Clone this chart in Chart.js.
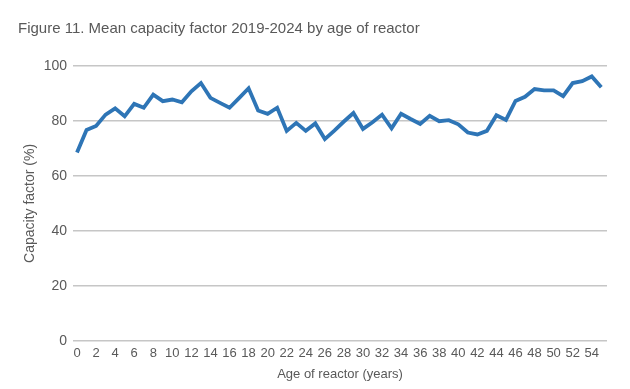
<!DOCTYPE html>
<html>
<head>
<meta charset="utf-8">
<script src="https://cdn.jsdelivr.net/npm/chart.js@4"></script>
<style>
html,body{margin:0;padding:0;background:#fff;}
#wrap{width:630px;height:389px;position:relative;}
</style>
</head>
<body>
<div id="wrap"><canvas id="c" width="630" height="389"></canvas></div>
<script>
const chartTitle = "Figure 11. Mean capacity factor 2019-2024 by age of reactor";
const xAxisTitle = "Age of reactor (years)";
const yAxisTitle = "Capacity factor (%)";
const ages = [0,1,2,3,4,5,6,7,8,9,10,11,12,13,14,15,16,17,18,19,20,21,22,23,24,25,26,27,28,29,30,31,32,33,34,35,36,37,38,39,40,41,42,43,44,45,46,47,48,49,50,51,52,53,54,55];
const capacityFactor = [68.5,76.7,78.2,82.3,84.6,81.7,86.2,84.8,89.6,87.2,87.8,86.8,90.8,93.8,88.4,86.6,84.8,88.3,91.9,83.8,82.6,84.8,76.4,79.3,76.4,79.1,73.4,76.5,79.8,82.9,77.1,79.5,82.3,77.3,82.6,80.7,78.9,81.9,79.9,80.3,78.8,75.8,75.1,76.4,82.1,80.4,87.3,88.8,91.6,91.1,91.1,89.0,93.8,94.5,96.2,92.3];
const xTickValues = [0,2,4,6,8,10,12,14,16,18,20,22,24,26,28,30,32,34,36,38,40,42,44,46,48,50,52,54];
const yTickValues = [0,20,40,60,80,100];

const points = ages.map((a, i) => ({x: a, y: capacityFactor[i]}));
const FONT = "'Liberation Sans', Arial, sans-serif";
const GREY = '#595959';

new Chart(document.getElementById('c'), {
  type: 'line',
  data: {
    datasets: [{
      data: points,
      borderColor: '#2e75b6',
      borderWidth: 3.8,
      pointRadius: 0,
      tension: 0,
      fill: false,
      borderJoinStyle: 'miter'
    }]
  },
  options: {
    responsive: false,
    animation: false,
    devicePixelRatio: 1,
    layout: { padding: { left: 18, right: 23, top: 0, bottom: 7 } },
    plugins: {
      legend: { display: false },
      tooltip: { enabled: false },
      title: {
        display: true,
        text: chartTitle,
        align: 'start',
        color: GREY,
        font: { family: FONT, size: 15, weight: 'normal' },
        padding: { top: 20, bottom: 28 }
      }
    },
    scales: {
      x: {
        type: 'linear',
        min: -0.42,
        max: 55.6,
        afterBuildTicks: (s) => { s.ticks = xTickValues.map(v => ({ value: v })); },
        ticks: {
          autoSkip: false, maxRotation: 0, minRotation: 0,
          color: GREY, padding: 5,
          font: { family: FONT, size: 13 },
          callback: (v) => String(v)
        },
        grid: { display: false, drawTicks: false },
        border: { display: false },
        title: {
          display: true, text: xAxisTitle, color: GREY,
          font: { family: FONT, size: 13 },
          padding: { top: 0, bottom: 0 }
        }
      },
      y: {
        min: 0, max: 100,
        afterBuildTicks: (s) => { s.ticks = yTickValues.map(v => ({ value: v })); },
        afterFit: (s) => { s.width = 55; },
        ticks: {
          color: GREY, padding: 6,
          font: { family: FONT, size: 14 }
        },
        grid: { color: '#c6c6c6', lineWidth: 1.5, drawTicks: false },
        border: { display: false },
        title: {
          display: true, text: yAxisTitle, color: GREY,
          font: { family: FONT, size: 14 },
          padding: { top: 4, bottom: 4 }
        }
      }
    }
  }
});
</script>
</body>
</html>
